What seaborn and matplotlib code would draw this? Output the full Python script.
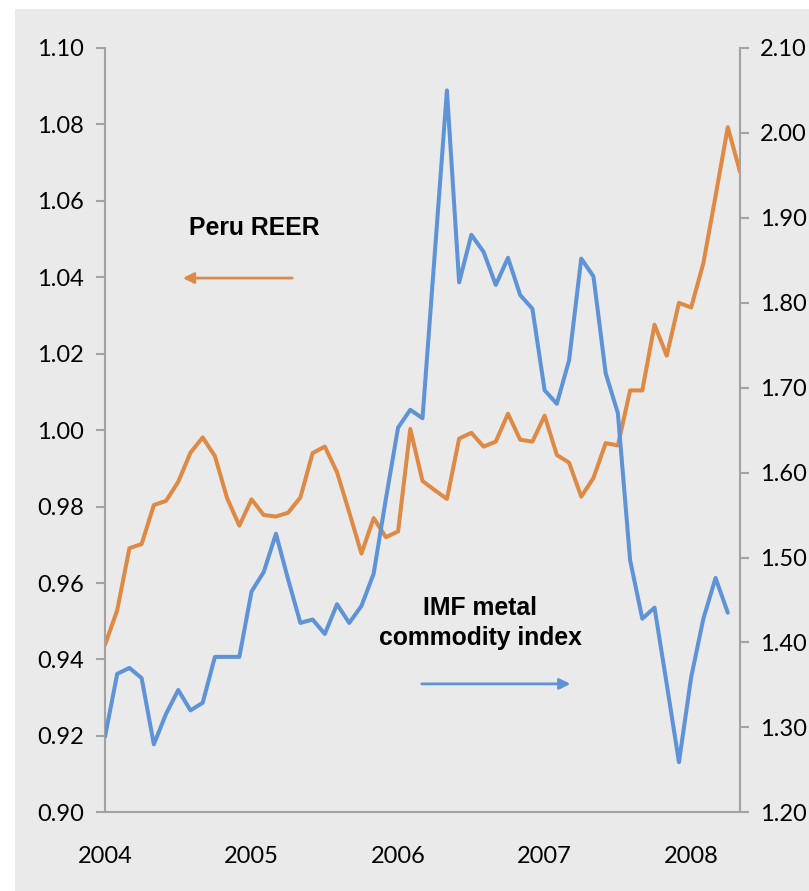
import numpy as np
import pandas as pd
import matplotlib
matplotlib.use("Agg")
import matplotlib.pyplot as plt
import seaborn as sns
from matplotlib.patches import Rectangle

# ---------------- data ----------------
start_year = 2004
peru_reer = [0.9438, 0.9529, 0.9691, 0.9702, 0.9804, 0.9815, 0.9865, 0.9941, 0.9981, 0.9932,
             0.9822, 0.9750, 0.9819, 0.9778, 0.9774, 0.9784, 0.9824, 0.9940, 0.9957, 0.9890,
             0.9785, 0.9677, 0.9770, 0.9720, 0.9735, 1.0003, 0.9867, 0.9843, 0.9820, 0.9978,
             0.9993, 0.9957, 0.9970, 1.0043, 0.9975, 0.9970, 1.0038, 0.9935, 0.9915, 0.9826,
             0.9875, 0.9966, 0.9960, 1.0104, 1.0104, 1.0276, 1.0195, 1.0333, 1.0321, 1.0437,
             1.0613, 1.0793, 1.0676]
imf_metal = [1.289, 1.363, 1.370, 1.358, 1.280, 1.316, 1.344, 1.320, 1.329, 1.383,
             1.383, 1.383, 1.460, 1.483, 1.528, 1.474, 1.423, 1.427, 1.410, 1.445,
             1.423, 1.443, 1.481, 1.569, 1.653, 1.674, 1.664, 1.857, 2.050, 1.824,
             1.880, 1.860, 1.821, 1.853, 1.809, 1.793, 1.697, 1.681, 1.732, 1.852,
             1.831, 1.717, 1.670, 1.497, 1.428, 1.441, 1.351, 1.259, 1.359, 1.428,
             1.476, 1.435]
year_ticks = [2004, 2005, 2006, 2007, 2008]
left_ticks = [0.90, 0.92, 0.94, 0.96, 0.98, 1.00, 1.02, 1.04, 1.06, 1.08, 1.10]
right_ticks = [1.20, 1.30, 1.40, 1.50, 1.60, 1.70, 1.80, 1.90, 2.00, 2.10]
label_reer = "Peru REER"
label_imf = "IMF metal\ncommodity index"

df_reer = pd.DataFrame({"t": start_year + np.arange(len(peru_reer)) / 12.0, "v": peru_reer})
df_imf = pd.DataFrame({"t": start_year + np.arange(len(imf_metal)) / 12.0, "v": imf_metal})

# ---------------- style ----------------
sns.set_style("white")
plt.rcParams["font.family"] = ["Lato", "DejaVu Sans"]

ORANGE = "#DE8A45"
BLUE = "#5F93D7"
GREY_BG = "#EAEAEA"
SPINE = "#A3A3A3"

fig = plt.figure(figsize=(8.09, 8.91), dpi=100, facecolor="white")
bg = Rectangle((15 / 809, 0), 1, (891 - 9) / 891, transform=fig.transFigure,
               facecolor=GREY_BG, edgecolor="none", zorder=-10)
fig.add_artist(bg)

ax = fig.add_axes([105 / 809, 1 - 812.3 / 891, (740 - 105) / 809, (812.3 - 48) / 891])
ax.set_facecolor(GREY_BG)
ax2 = ax.twinx()
ax2.patch.set_visible(False)

sns.lineplot(data=df_reer, x="t", y="v", ax=ax, color=ORANGE, linewidth=2.9, legend=False)
sns.lineplot(data=df_imf, x="t", y="v", ax=ax2, color=BLUE, linewidth=2.9, legend=False)

ax.set_xlim(start_year, start_year + 52 / 12.0)
ax.set_ylim(left_ticks[0], left_ticks[-1])
ax2.set_ylim(right_ticks[0], right_ticks[-1])

ax.set_xticks(year_ticks)
ax.set_xticklabels([str(y) for y in year_ticks])
ax.set_yticks(left_ticks)
ax.set_yticklabels([f"{v:.2f}" for v in left_ticks])
ax2.set_yticks(right_ticks)
ax2.set_yticklabels([f"{v:.2f}" for v in right_ticks])

for a in (ax, ax2):
    a.set_xlabel("")
    a.set_ylabel("")
    a.spines["top"].set_visible(False)
    for s in a.spines.values():
        s.set_color(SPINE)
        s.set_linewidth(1.5)
ax.spines["right"].set_visible(False)
ax2.spines["left"].set_visible(False)
ax2.spines["bottom"].set_visible(False)

ax.tick_params(axis="y", direction="out", length=6.5, width=1.5, color=SPINE, pad=8.5,
               labelsize=17, labelcolor="black")
ax.tick_params(axis="x", direction="out", length=6, width=1.5, color=SPINE, pad=18,
               labelsize=17, labelcolor="black")
ax2.tick_params(axis="y", direction="out", length=6.5, width=1.5, color=SPINE, pad=8,
                labelsize=17, labelcolor="black")

# annotations
ax.text(2005.017, 1.0529, label_reer, ha="center", va="center", fontsize=17.8,
        fontweight="bold", family=["Liberation Sans", "DejaVu Sans"], color="black")
ax.annotate("", xy=(2004.512, 1.0398), xytext=(2005.297, 1.0398),
            arrowprops=dict(arrowstyle="-|>", color=ORANGE, lw=2, mutation_scale=16))
ax.text(2006.56, 0.9495, label_imf, ha="center", va="center", fontsize=17.8,
        fontweight="bold", family=["Liberation Sans", "DejaVu Sans"], color="black",
        linespacing=1.35, multialignment="center")
ax.annotate("", xy=(2007.195, 0.9336), xytext=(2006.143, 0.9336),
            arrowprops=dict(arrowstyle="-|>", color=BLUE, lw=2, mutation_scale=16))

fig.savefig("out.png", dpi=100, facecolor="white")
